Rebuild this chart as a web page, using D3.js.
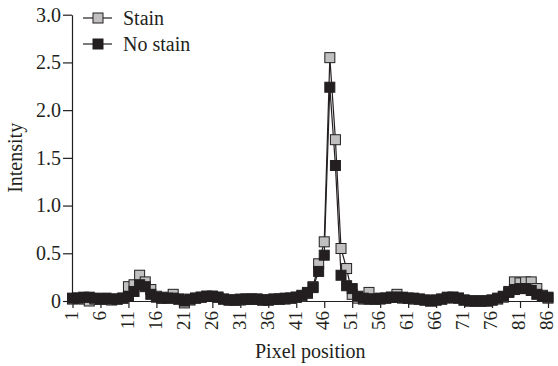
<!DOCTYPE html>
<html>
<head>
<meta charset="utf-8">
<script src="https://cdn.jsdelivr.net/npm/d3@7"></script>
<style>
  body { margin: 0; background: #fff; }
  text { font-family: "Liberation Serif", "Times New Roman", serif; fill: #231f20; }
</style>
</head>
<body>
<div id="chart"></div>
<script>
// pixel positions 1..86
const pixels = d3.range(1, 87);

const stain = [
  0.02, 0.03, 0.02, 0.00, 0.02, 0.02, 0.02, 0.01, 0.02, 0.03,
  0.15, 0.17, 0.27, 0.20, 0.12, 0.05, 0.03, 0.04, 0.07, 0.02,
  -0.02, 0.01, 0.03, 0.04, 0.05, 0.05, 0.04, 0.02, 0.01, 0.01,
  0.01, 0.02, 0.02, 0.02, 0.01, 0.01, 0.02, 0.02, 0.02, 0.03,
  0.04, 0.05, 0.08, 0.15, 0.39, 0.62, 2.55, 1.69, 0.55, 0.34,
  0.07, 0.03, 0.02, 0.09, 0.02, 0.02, 0.03, 0.04, 0.07, 0.03,
  0.03, 0.02, 0.02, 0.01, 0.00, 0.01, 0.02, 0.03, 0.04, 0.03,
  0.01, 0.00, 0.00, 0.00, 0.00, 0.01, 0.02, 0.04, 0.10, 0.20,
  0.19, 0.20, 0.20, 0.13, 0.06, 0.03
];

const noStain = [
  0.03, 0.03, 0.04, 0.04, 0.03, 0.02, 0.03, 0.02, 0.02, 0.03,
  0.05, 0.10, 0.17, 0.15, 0.07, 0.04, 0.03, 0.03, 0.03, 0.02,
  0.00, 0.02, 0.03, 0.04, 0.05, 0.05, 0.04, 0.02, 0.01, 0.01,
  0.02, 0.02, 0.02, 0.02, 0.01, 0.01, 0.02, 0.02, 0.03, 0.03,
  0.04, 0.06, 0.09, 0.14, 0.31, 0.48, 2.24, 1.42, 0.27, 0.16,
  0.13, 0.05, 0.03, 0.02, 0.02, 0.03, 0.03, 0.04, 0.04, 0.04,
  0.03, 0.03, 0.02, 0.01, 0.00, 0.01, 0.02, 0.04, 0.04, 0.03,
  0.01, 0.00, 0.00, 0.00, 0.00, 0.01, 0.03, 0.05, 0.09, 0.12,
  0.13, 0.13, 0.11, 0.07, 0.05, 0.04
];

const xTicks = d3.range(1, 87, 5);
const yTicks = [0, 0.5, 1.0, 1.5, 2.0, 2.5, 3.0];

const series = [
  { name: "Stain", values: stain, fill: "#c0c0c0" },
  { name: "No stain", values: noStain, fill: "#231f20" }
];

const width = 558, height = 366;
const ink = "#231f20";

const svg = d3.select("#chart")
  .append("svg")
  .attr("width", width)
  .attr("height", height);

const x = d3.scaleLinear().domain([1, 86]).range([72.5, 548]);
const y = d3.scaleLinear().domain([0, 3]).range([301, 14.7]);

// axes
const xAxis = svg.append("g")
  .attr("transform", `translate(0,${y(0)})`)
  .call(d3.axisBottom(x).tickValues(xTicks).tickSize(7).tickSizeOuter(0).tickPadding(3));
xAxis.selectAll("text")
  .attr("transform", "rotate(-90)")
  .attr("x", -10)
  .attr("y", 0)
  .attr("dy", "0.25em")
  .attr("text-anchor", "end")
  .style("font-size", "19px");

const yAxis = svg.append("g")
  .attr("transform", `translate(${x(1) - 0.5},0)`)
  .call(d3.axisLeft(y).tickValues(yTicks).tickSize(9).tickSizeOuter(0).tickPadding(2)
    .tickFormat(d => d === 0 ? "0" : d3.format(".1f")(d)));
yAxis.selectAll("text").style("font-size", "20px");

svg.selectAll(".domain, .tick line").attr("stroke", ink).attr("stroke-width", 1.2);

// lines and markers
const line = d3.line()
  .x((d, i) => x(pixels[i]))
  .y(d => y(d));

series.forEach(s => {
  svg.append("path")
    .attr("fill", "none")
    .attr("stroke", ink)
    .attr("stroke-width", 1.2)
    .attr("d", line(s.values));
});

series.forEach(s => {
  svg.append("g")
    .selectAll("rect")
    .data(s.values)
    .join("rect")
    .attr("x", (d, i) => x(pixels[i]) - 5)
    .attr("y", d => y(d) - 5)
    .attr("width", 10)
    .attr("height", 10)
    .attr("fill", s.fill)
    .attr("stroke", ink)
    .attr("stroke-width", 1);
});

// legend
const legend = svg.selectAll(".legend")
  .data(series)
  .join("g")
  .attr("class", "legend")
  .attr("transform", (d, i) => `translate(83,${18 + i * 26})`);

legend.append("line")
  .attr("x1", 0).attr("x2", 29)
  .attr("stroke", ink).attr("stroke-width", 1.2);

legend.append("rect")
  .attr("x", 10).attr("y", -5)
  .attr("width", 10).attr("height", 10)
  .attr("fill", d => d.fill)
  .attr("stroke", ink);

legend.append("text")
  .attr("x", 40)
  .attr("y", 7)
  .style("font-size", "20px")
  .text(d => d.name);

// axis titles
svg.append("text")
  .attr("x", (x(1) + x(86)) / 2)
  .attr("y", 358)
  .attr("text-anchor", "middle")
  .style("font-size", "20px")
  .text("Pixel position");

svg.append("text")
  .attr("transform", `translate(22,${y(1.5)}) rotate(-90)`)
  .attr("text-anchor", "middle")
  .style("font-size", "20px")
  .text("Intensity");
</script>
</body>
</html>
